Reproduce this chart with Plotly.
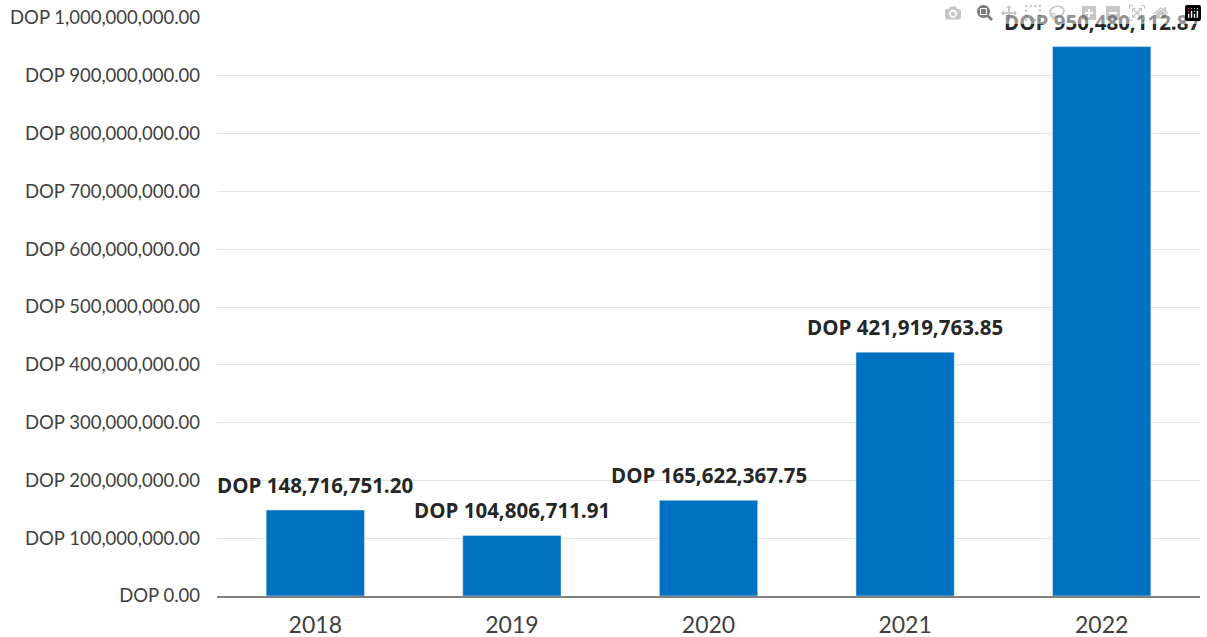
import plotly.graph_objects as go

years = ["2018", "2019", "2020", "2021", "2022"]
values = [148716751.20, 104806711.91, 165622367.75, 421919763.85, 950480112.87]
labels = ["DOP 148,716,751.20", "DOP 104,806,711.91", "DOP 165,622,367.75",
          "DOP 421,919,763.85", "DOP 950,480,112.87"]
tick_vals = [i * 100000000 for i in range(11)]
tick_text = ["DOP 0.00"] + ["DOP {:,}.00".format(v) for v in tick_vals[1:]]

fig = go.Figure(go.Bar(
    x=years, y=values,
    marker=dict(color="#0070C0"), width=0.5, cliponaxis=False,
))

for i, (v, lab) in enumerate(zip(values, labels)):
    fig.add_annotation(
        x=i, y=v, text=lab, showarrow=False, yanchor="bottom", yshift=9,
        font=dict(family="Open Sans", size=20.5, color="#262626", weight="bold"),
    )

fig.update_layout(
    width=1207, height=637,
    margin=dict(l=217, r=7, t=18, b=41, autoexpand=False),
    paper_bgcolor="white", plot_bgcolor="white",
    showlegend=False,
    font=dict(family="Lato", color="#404040"),
    xaxis=dict(type="category", range=[-0.5, len(years) - 0.5], autorange=False,
               tickfont=dict(size=23, color="#404040"), showgrid=False,
               showline=True, linecolor="#808080", linewidth=2,
               ticks="", ticklabelstandoff=7, automargin=False),
    yaxis=dict(range=[0, 1000000000], autorange=False, tickvals=tick_vals, ticktext=tick_text,
               tickfont=dict(size=18.5, color="#404040"), showgrid=True,
               gridcolor="#e3e3e3", gridwidth=1, zeroline=False,
               ticklabelstandoff=16, ticklabeloverflow="allow", automargin=False),
)

# remove the browser's default 8px body margin so the figure fills the window exactly
fig.write_html("out.html", post_script="document.body.style.margin='0';document.body.style.overflow='hidden';")
